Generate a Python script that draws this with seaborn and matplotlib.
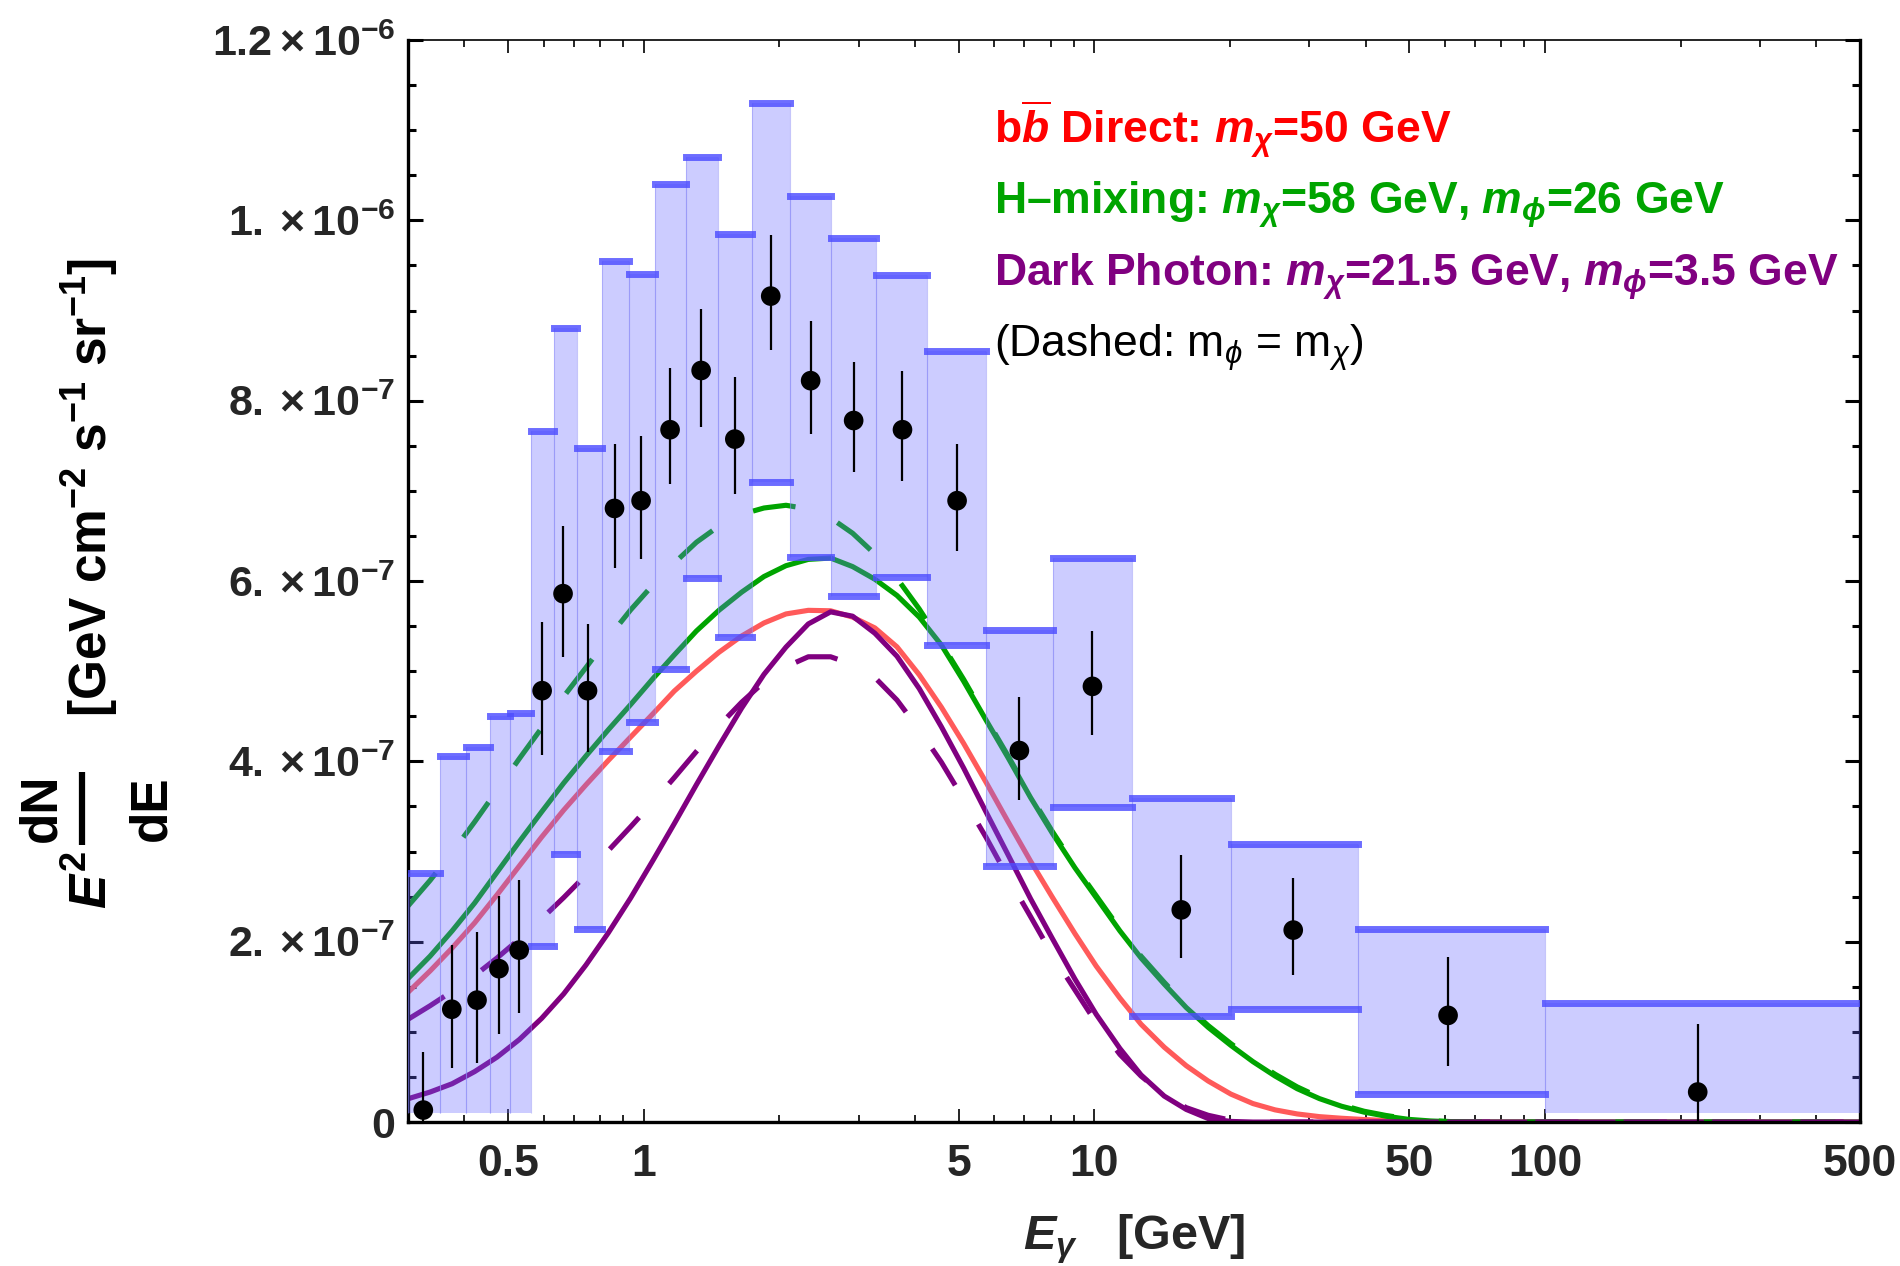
import numpy as np
import pandas as pd
import matplotlib
matplotlib.use("Agg")
import matplotlib.pyplot as plt
from matplotlib.lines import Line2D
import seaborn as sns
from matplotlib.ticker import FixedLocator, FixedFormatter, LogLocator, NullFormatter, MultipleLocator

# ---------------- data (y values in units of 1e-7 GeV cm^-2 s^-1 sr^-1) ----------------
SCALE = 1e-7

bin_edges = [0.300, 0.353, 0.404, 0.457, 0.505, 0.564, 0.632, 0.712, 0.807, 0.927, 1.060,
             1.242, 1.462, 1.737, 2.117, 2.611, 3.284, 4.250, 5.74, 8.10, 12.15, 20.1,
             38.5, 100.0, 500.0]
sys_upper = [2.766, 4.056, 4.164, 4.506, 4.539, 7.667, 8.804, 7.479, 9.554, 9.407, 10.404,
             10.697, 9.849, 11.304, 10.265, 9.801, 9.392, 8.548, 5.454, 6.254, 3.595, 3.081,
             2.143, 1.319]
sys_lower = [0.10, 0.10, 0.10, 0.10, 0.10, 1.956, 2.976, 2.140, 4.112, 4.438, 5.027, 6.037,
             5.383, 7.098, 6.265, 5.833, 6.040, 5.296, 2.845, 3.490, 1.176, 1.251, 0.306, 0.10]
lower_cap = [False, False, False, False, False, True, True, True, True, True, True, True,
             True, True, True, True, True, True, True, True, True, True, True, False]

pt_E = [0.3245, 0.3754, 0.4270, 0.4777, 0.5296, 0.5955, 0.6627, 0.7510, 0.8620, 0.9874,
        1.145, 1.342, 1.594, 1.915, 2.348, 2.925, 3.754, 4.962, 6.822, 9.908, 15.60, 27.64,
        60.97, 218.3]
pt_val = [0.133, 1.251, 1.352, 1.701, 1.907, 4.784, 5.860, 4.784, 6.805, 6.891, 7.678, 8.335,
          7.574, 9.160, 8.222, 7.780, 7.678, 6.891, 4.120, 4.832, 2.353, 2.129, 1.183, 0.333]
pt_hi = [0.782, 1.963, 2.105, 2.503, 2.684, 5.544, 6.609, 5.518, 7.517, 7.611, 8.361, 9.021,
         8.260, 9.835, 8.886, 8.425, 8.328, 7.517, 4.719, 5.443, 2.957, 2.706, 1.825, 1.082]
pt_lo = [0.0, 0.595, 0.658, 0.981, 1.206, 4.071, 5.158, 4.101, 6.149, 6.242, 7.071, 7.708,
         6.966, 8.559, 7.629, 7.210, 7.109, 6.328, 3.568, 4.295, 1.821, 1.626, 0.622, 0.0]

curve_E = [0.300, 0.336, 0.376, 0.422, 0.473, 0.530, 0.594, 0.665, 0.745, 0.835, 0.936, 1.05,
           1.17, 1.31, 1.47, 1.65, 1.85, 2.07, 2.32, 2.60, 2.91, 3.26, 3.65, 4.09, 4.58, 5.13,
           5.75, 6.44, 7.22, 8.08, 9.06, 10.1, 11.4, 12.7, 14.3, 16.0, 17.9, 20.1, 22.5, 25.2,
           28.2, 31.6, 35.4, 39.7, 44.4, 49.8, 55.8, 62.5, 70.0, 500.0]
# bb direct, m_chi = 50 GeV (red, solid)
bb_val = [1.438, 1.676, 1.93, 2.21, 2.52, 2.84, 3.16, 3.46, 3.74, 4.01, 4.27, 4.53, 4.78,
          5.00, 5.21, 5.39, 5.535, 5.635, 5.675, 5.67, 5.60, 5.48, 5.27, 4.96, 4.60, 4.20,
          3.77, 3.33, 2.895, 2.49, 2.09, 1.73, 1.375, 1.085, 0.83, 0.625, 0.455, 0.31, 0.205,
          0.135, 0.09, 0.06, 0.042, 0.028, 0.017, 0.008, 0.002, 0.0, 0.0, 0.0]
# H-mixing (green, solid)
hm_val = [1.59, 1.84, 2.12, 2.43, 2.77, 3.11, 3.44, 3.76, 4.06, 4.35, 4.63, 4.92, 5.181,
          5.446, 5.676, 5.876, 6.05, 6.17, 6.24, 6.255, 6.16, 6.02, 5.84, 5.60, 5.29, 4.89,
          4.46, 4.04, 3.60, 3.20, 2.82, 2.49, 2.12, 1.82, 1.53, 1.27, 1.05, 0.85, 0.67, 0.51,
          0.37, 0.26, 0.175, 0.11, 0.065, 0.03, 0.012, 0.003, 0.0, 0.0]
# H-mixing, m_phi = m_chi (green, dashed)
hmd_val = [2.395, 2.68, 2.99, 3.33, 3.68, 4.03, 4.37, 4.72, 5.04, 5.37, 5.68, 5.96, 6.20, 6.43,
           6.61, 6.74, 6.81, 6.84, 6.80, 6.70, 6.53, 6.30, 6.03, 5.69, 5.31, 4.91, 4.48, 4.06,
           3.62, 3.22, 2.84, 2.51, 2.14, 1.84, 1.55, 1.29, 1.07, 0.87, 0.69, 0.53, 0.39, 0.275,
           0.19, 0.12, 0.073, 0.035, 0.015, 0.004, 0.0, 0.0]
# Dark photon (purple, solid)
dp_val = [0.258, 0.333, 0.425, 0.56, 0.72, 0.915, 1.15, 1.422, 1.742, 2.098, 2.485, 2.905,
          3.310, 3.742, 4.172, 4.590, 4.965, 5.267, 5.524, 5.658, 5.61, 5.421, 5.166, 4.807,
          4.383, 3.927, 3.441, 2.963, 2.478, 2.032, 1.586, 1.195, 0.816, 0.523, 0.288, 0.140,
          0.039, 0.007, 0.0, 0.0, 0.0, 0.0, 0.0, 0.0, 0.0, 0.0, 0.0, 0.0, 0.0, 0.0]
# Dark photon, m_phi = m_chi (purple, dashed)
dpd_val = [1.139, 1.29, 1.45, 1.625, 1.82, 2.03, 2.255, 2.49, 2.74, 3.01, 3.275, 3.55, 3.82,
           4.11, 4.395, 4.655, 4.88, 5.05, 5.16, 5.16, 5.075, 4.93, 4.68, 4.35, 3.99, 3.58,
           3.16, 2.71, 2.28, 1.85, 1.465, 1.10, 0.75, 0.51, 0.30, 0.16, 0.075, 0.02, 0.0, 0.0,
           0.0, 0.0, 0.0, 0.0, 0.0, 0.0, 0.0, 0.0, 0.0, 0.0]

xtick_vals = [0.5, 1, 5, 10, 50, 100, 500]
xtick_labels = ["0.5", "1", "5", "10", "50", "100", "500"]
ytick_vals = [0, 2e-7, 4e-7, 6e-7, 8e-7, 1e-6, 1.2e-6]
ytick_labels = ["0", r"$2.\times10^{-7}$", r"$4.\times10^{-7}$", r"$6.\times10^{-7}$",
                r"$8.\times10^{-7}$", r"$1.\times10^{-6}$", r"$1.2\times10^{-6}$"]

legend_lines = [
    (r"b$\overline{b}$ Direct: $m_{\chi}$=50 GeV", "#ff0000", "bold"),
    (r"H–mixing: $m_{\chi}$=58 GeV, $m_{\phi}$=26 GeV", "#00a400", "bold"),
    (r"Dark Photon: $m_{\chi}$=21.5 GeV, $m_{\phi}$=3.5 GeV", "#800080", "bold"),
    (r"(Dashed: $\mathsf{m}_{\mathtt{\phi}}$ = $\mathsf{m}_{\mathtt{\chi}}$)", "black", "normal"),
]

# ---------------- style ----------------
sns.set_theme(style="white")
plt.rcParams["font.family"] = ["Liberation Sans", "DejaVu Sans"]
plt.rcParams.update({
    "mathtext.fontset": "custom",
    "mathtext.rm": "Liberation Sans:bold",
    "mathtext.bf": "Liberation Sans:bold",
    "mathtext.it": "Liberation Sans:italic:bold",
    "mathtext.sf": "Liberation Sans",
    "mathtext.tt": "Liberation Sans:italic",
    "mathtext.fallback": "stixsans",
    "mathtext.default": "it",
})

W, H = 1900, 1266
fig = plt.figure(figsize=(W / 100, H / 100), dpi=100)
ax = fig.add_axes([0.2147, 0.1137, 0.7642, 0.8547])
ax.set_xscale("log")

RED, GREEN, PURPLE = "#ff5a5a", "#00a400", "#800080"
LW = 3.7
DASH = (0, (8.4, 8.8))

curves = [
    (bb_val, RED, "-"),
    (hm_val, GREEN, "-"),
    (dp_val, PURPLE, "-"),
    (hmd_val, GREEN, DASH),
    (dpd_val, PURPLE, DASH),
]
for v, c, ls in curves:
    df = pd.DataFrame({"E": curve_E, "y": np.array(v) * SCALE})
    sns.lineplot(data=df, x="E", y="y", color=c, lw=LW, linestyle=ls, ax=ax,
                 sort=False, errorbar=None, legend=False, zorder=2)

# systematic boxes (drawn above the curves, translucent)
edges = np.array(bin_edges)
left, right = edges[:-1], edges[1:]
up = np.array(sys_upper) * SCALE
lo = np.array(sys_lower) * SCALE
ax.bar(left, up - lo, width=right - left, bottom=lo, align="edge",
       color=(0.4, 0.4, 1.0), alpha=0.33, edgecolor="none", zorder=3)
ax.vlines(np.concatenate([left, right]), np.concatenate([lo, lo]), np.concatenate([up, up]),
          color=(0.55, 0.55, 0.97), lw=0.8, alpha=0.5, zorder=3)
CAPC = (0.3, 0.3, 1.0)
ax.hlines(up, left, right, color=CAPC, alpha=0.82, lw=5, zorder=4, capstyle="projecting")
lc = np.array(lower_cap)
ax.hlines(lo[lc], left[lc], right[lc], color=CAPC, alpha=0.82, lw=5, zorder=4,
          capstyle="projecting")

# data points with error bars
ax.vlines(pt_E, np.array(pt_lo) * SCALE, np.array(pt_hi) * SCALE, color="black", lw=1.6,
          zorder=5)
sns.scatterplot(x=pt_E, y=np.array(pt_val) * SCALE, color="black", s=200, edgecolor="none",
                ax=ax, zorder=6, legend=False)

# ---------------- axes ----------------
ax.set_xlim(0.3, 500)
ax.set_ylim(0, 1.2e-6)
ax.xaxis.set_major_locator(FixedLocator(xtick_vals))
ax.xaxis.set_major_formatter(FixedFormatter(xtick_labels))
ax.xaxis.set_minor_locator(LogLocator(base=10, subs=np.arange(2, 10), numticks=30))
ax.xaxis.set_minor_formatter(NullFormatter())
ax.yaxis.set_major_locator(FixedLocator(ytick_vals))
ax.yaxis.set_major_formatter(FixedFormatter(ytick_labels))
ax.yaxis.set_minor_locator(MultipleLocator(0.5e-7))

ax.tick_params(axis="x", which="both", direction="in", top=True, bottom=True, width=1.2,
               color="black")
ax.tick_params(axis="x", which="major", length=9.5, pad=16, labelsize=32)
ax.tick_params(axis="x", which="minor", length=5)
ax.tick_params(axis="y", which="both", direction="in", left=True, right=True, width=2.2,
               color="black")
ax.tick_params(axis="y", which="major", length=11, pad=9, labelsize=31)
ax.tick_params(axis="y", which="minor", length=6)
for lab in ax.get_xticklabels() + ax.get_yticklabels():
    lab.set_fontweight("bold")

for side in ["left", "right", "bottom"]:
    ax.spines[side].set_linewidth(2.4)
    ax.spines[side].set_color("black")
ax.spines["top"].set_linewidth(1.2)
ax.spines["top"].set_color("black")

ax.set_xlabel(r"$E_{\gamma}$   [GeV]", fontsize=35, fontweight="bold")
ax.xaxis.set_label_coords(0.5, -0.083)
ax.set_ylabel("")

# y label built like the original: E^2, a stacked dN/dE fraction, then the units
YFS = 37
rot = dict(rotation=90, rotation_mode="anchor", fontsize=YFS, fontweight="bold",
           color="black")
fig.text(107 / W, 1 - 909 / H, r"$E^{2}$", ha="left", va="baseline", **rot)
fig.text(55 / W, 1 - 808 / H, "dN", ha="center", va="baseline", **rot)
fig.text(165 / W, 1 - 808 / H, "dE", ha="center", va="baseline", **rot)
fig.add_artist(Line2D([82 / W, 82 / W], [1 - 772 / H, 1 - 845 / H], transform=fig.transFigure,
                      color="black", lw=4.5, solid_capstyle="butt"))
fig.text(107 / W, 1 - 487 / H, r"[GeV cm$^{-2}$ s$^{-1}$ sr$^{-1}$]", ha="center",
         va="baseline", **rot)

ys = [0.9039, 0.8397, 0.7731, 0.7070]
for (txt, col, wt), yy in zip(legend_lines, ys):
    ax.text(0.4036, yy, txt, transform=ax.transAxes, color=col, fontsize=32,
            fontweight=wt, ha="left", va="baseline", zorder=7)

fig.savefig("out.png", dpi=100)
